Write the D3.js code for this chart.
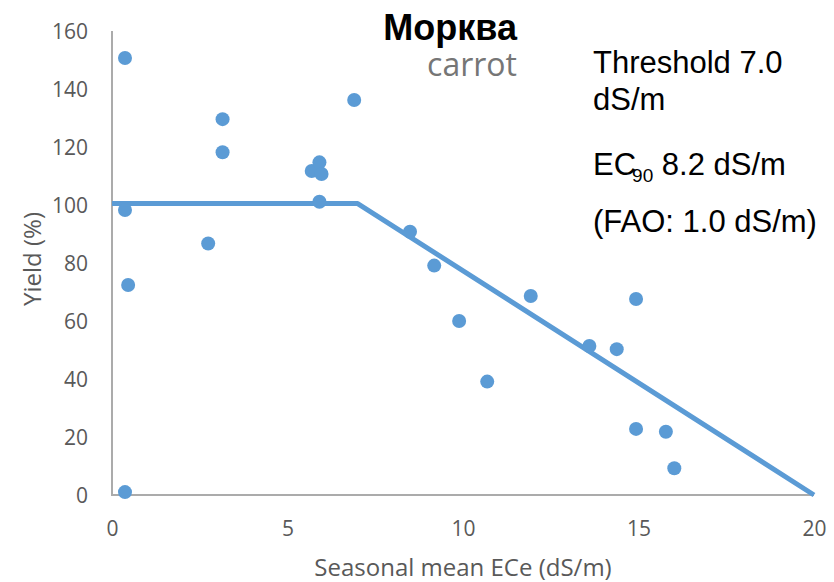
<!DOCTYPE html>
<html><head><meta charset="utf-8">
<script src="https://cdn.jsdelivr.net/npm/d3@7"></script>
<style>html,body{margin:0;padding:0;background:#fff;}svg{display:block;}</style>
</head><body>
<svg id="chart" width="834" height="582"></svg>
<script>
// Data
const ece = [0.37, 0.37, 0.46, 0.37, 2.74, 3.15, 3.15, 6.9, 5.69, 5.91, 5.97, 5.91, 8.49, 9.18, 9.89, 10.69, 11.93, 13.6, 14.38, 14.93, 14.93, 15.78, 16.02];
const yieldPct = [150.7, 98.3, 72.4, 1.0, 86.7, 129.6, 118.2, 136.2, 111.7, 114.7, 110.7, 101.1, 90.8, 79.1, 60.0, 39.1, 68.6, 51.4, 50.3, 67.6, 22.8, 21.8, 9.2];
const modelX = [0, 7.0, 20];
const modelY = [100.5, 100.5, 0];
const xTicks = [0, 5, 10, 15, 20];
const yTicks = [0, 20, 40, 60, 80, 100, 120, 140, 160];
const titleRu = "Морква";
const titleEn = "carrot";
const xTitle = "Seasonal mean ECe (dS/m)";
const yTitle = "Yield (%)";

const svg = d3.select("#chart");
const x = d3.scaleLinear().domain([0, 20]).range([112, 814]);
const y = d3.scaleLinear().domain([0, 160]).range([495, 31]);

const axisColor = "#ababab";
const textColor = "#595959";
const blue = "#5b9bd5";

// axes lines
svg.append("line").attr("x1", x(0)).attr("x2", x(0)).attr("y1", y(160)).attr("y2", y(0))
  .attr("stroke", axisColor).attr("stroke-width", 2);
svg.append("line").attr("x1", x(0) - 1).attr("x2", x(20)).attr("y1", y(0)).attr("y2", y(0))
  .attr("stroke", axisColor).attr("stroke-width", 2);

// tick labels via axes (no tick lines)
const yAxis = d3.axisLeft(y).tickValues(yTicks).tickSize(0).tickPadding(0).tickFormat(d3.format("d"));
const gy = svg.append("g").attr("transform", `translate(88,0)`).call(yAxis);
gy.select(".domain").remove();
gy.selectAll("text").attr("font-family", "Open Sans").attr("font-size", 21).attr("fill", textColor)
  .attr("x", 0).attr("dy", "0.34em");

const xAxis = d3.axisBottom(x).tickValues(xTicks).tickSize(0).tickPadding(0).tickFormat(d3.format("d"));
const gx = svg.append("g").attr("transform", `translate(0,536)`).call(xAxis);
gx.select(".domain").remove();
gx.selectAll("text").attr("font-family", "Open Sans").attr("font-size", 21).attr("fill", textColor)
  .attr("y", 0).attr("dy", 0);

// axis titles
svg.append("text").attr("x", x(10)).attr("y", 576).attr("text-anchor", "middle")
  .attr("font-family", "Open Sans").attr("font-size", 24).attr("fill", textColor).text(xTitle);
svg.append("text").attr("transform", "translate(41,259) rotate(-90)").attr("text-anchor", "middle")
  .attr("font-family", "Open Sans").attr("font-size", 24).attr("fill", textColor).text(yTitle);

// model line
const line = d3.line().x(d => x(d[0])).y(d => y(d[1]));
svg.append("path").datum(modelX.map((v, i) => [v, modelY[i]])).attr("d", line)
  .attr("fill", "none").attr("stroke", blue).attr("stroke-width", 5).attr("stroke-linejoin", "round");

// points
svg.append("g").selectAll("circle").data(ece.map((v, i) => [v, yieldPct[i]])).join("circle")
  .attr("cx", d => x(d[0])).attr("cy", d => y(d[1])).attr("r", 7).attr("fill", blue);

// titles
svg.append("text").attr("x", 517).attr("y", 40).attr("text-anchor", "end")
  .attr("font-family", "Liberation Sans, Arial, sans-serif").attr("font-weight", "bold")
  .attr("font-size", 36).attr("fill", "#000").text(titleRu);
svg.append("text").attr("x", 517).attr("y", 76).attr("text-anchor", "end")
  .attr("font-family", "Open Sans").attr("font-size", 32).attr("fill", "#767676").text(titleEn);

// annotation
const ann = svg.append("g").attr("font-family", "Liberation Sans, Arial, sans-serif").attr("font-size", 31).attr("fill", "#000");
ann.append("text").attr("x", 593).attr("y", 73).text("Threshold 7.0");
ann.append("text").attr("x", 593).attr("y", 110).text("dS/m");
const ec = ann.append("text").attr("x", 593).attr("y", 175);
ec.append("tspan").text("EC");
ec.append("tspan").attr("font-size", 19).attr("dx", -4).attr("dy", 7).text("90");
ec.append("tspan").attr("dy", -7).text(" 8.2 dS/m");
ann.append("text").attr("x", 593).attr("y", 232).text("(FAO: 1.0 dS/m)");
</script>
</body></html>
